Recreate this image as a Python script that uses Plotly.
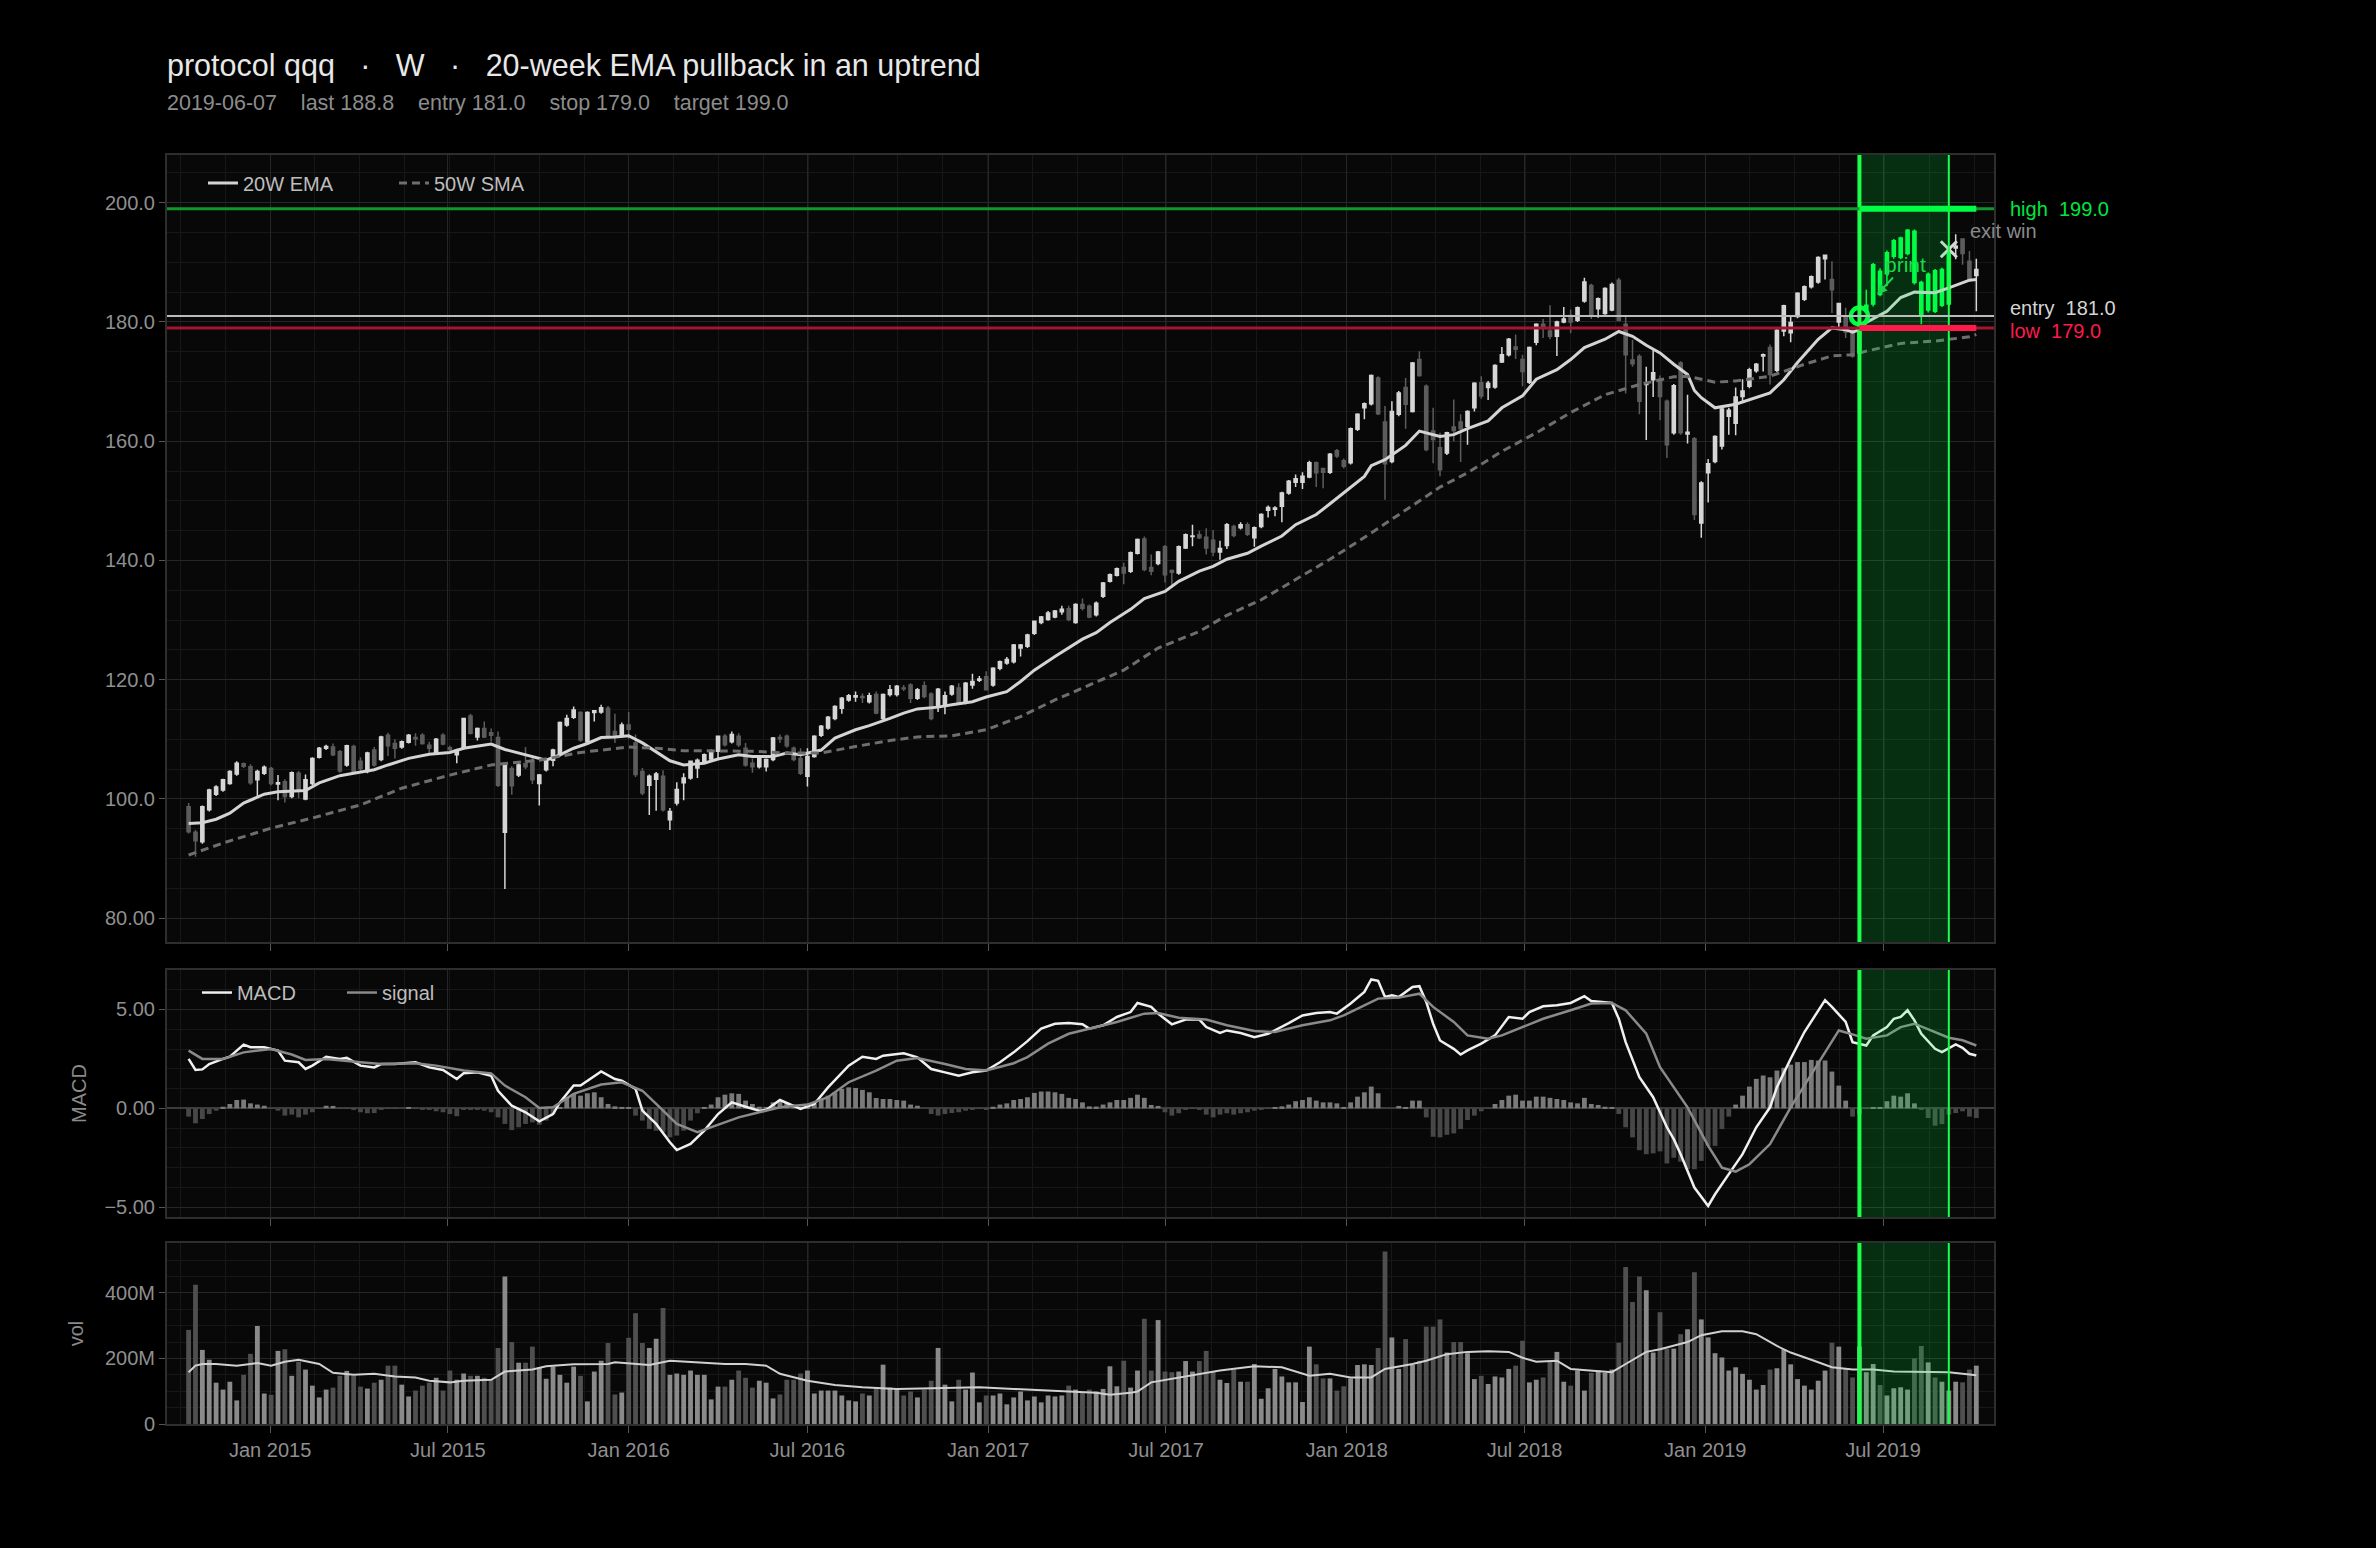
import pandas as pd
import plotly.graph_objects as go
from plotly.subplots import make_subplots

# weekly bars (Friday closes)
weeks = pd.date_range("2014-10-10", periods=261, freq="7D")

open_ = [98.7, 94.4, 92.8, 98.2, 100.8, 101.5, 102.6, 104.2, 105.9, 105.4,
         103.2, 104.3, 105.1, 102.5, 102.9, 100.4, 104.3, 100.0, 102.6, 107.0,
         108.5, 108.7, 107.9, 105.7, 108.8, 106.3, 104.6, 108.2, 106.6, 110.7,
         109.3, 108.7, 109.5, 110.3, 110.7, 109.0, 107.8, 110.7, 108.6, 107.4,
         108.5, 113.9, 110.4, 111.8, 111.1, 110.3, 94.4, 105.1, 104.0, 105.9,
         106.5, 102.6, 104.9, 106.5, 107.4, 112.4, 113.7, 114.5, 109.6, 114.5,
         114.6, 115.2, 111.3, 110.7, 112.4, 109.4, 104.6, 102.3, 103.3, 103.8,
         96.5, 99.3, 102.7, 103.5, 105.2, 106.3, 106.7, 108.0, 110.5, 109.6,
         110.5, 108.5, 106.0, 105.4, 105.4, 106.6, 110.3, 110.5, 108.5, 106.8,
         103.8, 107.1, 110.7, 111.9, 113.5, 115.2, 116.6, 117.1, 117.2, 116.3,
         117.5, 113.5, 117.5, 117.5, 118.6, 119.1, 116.9, 119.0, 117.6, 115.5,
         115.8, 117.6, 118.6, 116.2, 119.1, 119.9, 120.5, 119.1, 121.9, 122.8,
         123.0, 125.3, 125.6, 127.8, 129.6, 130.1, 130.5, 131.4, 131.9, 129.6,
         132.6, 132.3, 130.9, 134.0, 136.5, 137.5, 138.8, 138.2, 141.2, 143.6,
         138.8, 139.5, 142.3, 138.3, 137.9, 142.1, 144.0, 144.3, 143.9, 143.4,
         141.4, 142.5, 145.7, 145.5, 146.0, 143.8, 145.7, 148.4, 148.6, 149.1,
         151.3, 153.1, 153.1, 154.0, 156.4, 155.4, 154.8, 158.4, 156.7, 156.4,
         162.0, 165.6, 166.3, 170.6, 163.2, 156.6, 164.5, 169.0, 165.0, 173.7,
         169.2, 161.7, 158.9, 158.0, 162.4, 163.2, 162.5, 165.6, 169.8, 169.0,
         169.1, 173.3, 174.5, 175.8, 173.7, 169.9, 176.6, 179.6, 178.5, 177.6,
         180.0, 181.1, 180.3, 183.5, 186.1, 182.2, 181.4, 182.0, 187.0, 179.6,
         173.6, 174.2, 169.5, 170.3, 170.4, 166.7, 161.4, 173.1, 161.2, 160.4,
         146.3, 154.7, 156.6, 159.2, 164.2, 163.0, 167.5, 169.2, 171.8, 174.3,
         175.7, 171.9, 178.5, 178.2, 180.9, 183.8, 185.9, 186.7, 190.6, 187.1,
         180.0, 180.7, 178.5, 174.8, 181.8, 183.0, 188.5, 188.1, 191.0, 190.8,
         191.5, 195.2, 186.6, 182.0, 188.6, 182.8, 183.0, 192.4, 193.9, 190.2,
         187.8]

high = [99.3, 94.8, 98.9, 101.7, 102.3, 103.4, 104.8, 106.3, 106.1, 105.8,
        104.9, 105.6, 105.4, 104.0, 103.3, 104.6, 104.7, 104.1, 107.0, 108.7,
        109.1, 109.3, 108.2, 109.1, 109.1, 107.0, 107.9, 108.7, 110.6, 111.1,
        110.0, 109.8, 110.9, 111.0, 111.0, 109.6, 110.2, 111.0, 108.9, 108.4,
        113.6, 114.3, 112.0, 113.0, 111.8, 111.3, 105.9, 105.5, 106.1, 108.7,
        106.9, 104.2, 106.5, 108.4, 113.0, 114.1, 115.5, 114.7, 114.7, 114.9,
        115.8, 115.6, 114.3, 112.8, 114.6, 110.8, 105.2, 104.1, 104.5, 104.8,
        98.5, 102.8, 104.3, 106.4, 106.8, 107.6, 108.3, 110.6, 110.9, 111.3,
        111.0, 109.4, 106.8, 107.0, 106.8, 110.4, 110.8, 110.8, 108.8, 108.5,
        108.5, 110.7, 112.4, 113.9, 115.7, 117.1, 117.6, 118.0, 117.7, 117.8,
        118.0, 117.7, 119.1, 119.1, 119.1, 119.4, 118.6, 119.7, 117.9, 118.6,
        118.0, 119.1, 119.4, 119.6, 121.0, 120.6, 121.4, 122.1, 123.2, 123.8,
        126.0, 126.0, 127.7, 129.9, 130.7, 131.5, 131.7, 132.4, 132.4, 132.8,
        133.6, 132.6, 133.1, 136.4, 137.8, 138.8, 139.6, 141.5, 143.7, 144.0,
        141.0, 141.6, 142.6, 138.5, 142.5, 144.5, 146.0, 145.0, 145.4, 145.1,
        143.3, 146.3, 146.0, 146.4, 146.4, 145.7, 147.9, 149.2, 149.1, 151.5,
        153.5, 154.4, 154.8, 156.7, 156.6, 155.5, 158.0, 158.7, 157.1, 162.3,
        164.7, 166.5, 171.2, 170.9, 165.9, 166.7, 168.4, 170.6, 173.3, 175.1,
        169.5, 165.6, 161.4, 161.6, 167.0, 164.5, 165.2, 169.9, 170.9, 170.1,
        172.9, 175.8, 177.3, 177.9, 174.5, 175.9, 179.8, 180.5, 182.8, 180.2,
        182.5, 182.1, 182.6, 187.4, 186.4, 184.1, 185.8, 186.6, 187.4, 181.0,
        177.0, 174.6, 172.5, 175.3, 171.0, 167.0, 169.6, 173.4, 167.8, 160.7,
        153.3, 157.0, 161.0, 165.9, 165.6, 169.0, 170.4, 172.3, 173.1, 174.7,
        176.2, 178.9, 182.9, 180.9, 185.0, 186.1, 187.8, 191.0, 191.3, 190.2,
        183.1, 182.4, 178.8, 181.9, 185.4, 189.9, 189.0, 192.0, 193.9, 194.3,
        195.6, 195.5, 186.9, 188.3, 188.9, 189.1, 192.0, 194.7, 194.0, 191.9,
        190.6]

low = [94.2, 90.3, 92.5, 97.9, 100.5, 101.2, 102.4, 103.9, 105.2, 102.4,
       100.4, 104.0, 102.3, 99.8, 99.4, 100.1, 100.1, 99.8, 102.3, 106.8,
       108.2, 107.2, 104.4, 105.4, 104.3, 104.7, 104.3, 105.4, 106.3, 107.2,
       106.8, 108.4, 109.3, 108.9, 109.1, 107.5, 107.5, 109.0, 107.9, 106.0,
       108.3, 110.8, 109.8, 110.2, 109.6, 102.0, 84.9, 100.7, 103.7, 105.0,
       102.5, 98.9, 104.6, 105.5, 107.1, 112.1, 113.4, 109.6, 109.3, 113.0,
       114.3, 110.4, 109.4, 110.2, 110.1, 103.7, 100.6, 97.3, 98.0, 97.9,
       94.8, 98.9, 99.8, 103.2, 103.5, 106.0, 106.4, 106.6, 108.8, 109.3,
       108.7, 105.4, 104.4, 105.1, 104.6, 106.3, 109.4, 108.6, 106.3, 104.0,
       102.1, 106.9, 110.4, 111.6, 113.2, 114.3, 116.3, 116.3, 116.1, 116.0,
       114.2, 113.2, 117.2, 117.2, 118.1, 116.1, 116.6, 116.9, 113.2, 114.6,
       114.2, 117.3, 115.8, 115.9, 118.5, 119.6, 118.2, 118.8, 121.6, 122.5,
       122.7, 123.9, 125.3, 127.5, 129.3, 129.9, 130.3, 130.9, 129.8, 129.4,
       131.6, 130.3, 130.6, 133.7, 136.3, 137.3, 136.0, 137.9, 141.0, 138.2,
       137.5, 139.2, 136.3, 135.8, 137.6, 141.9, 142.4, 143.6, 141.0, 140.7,
       140.1, 141.9, 143.9, 145.2, 144.1, 142.3, 145.4, 147.2, 147.4, 146.4,
       151.0, 152.3, 152.0, 153.8, 152.3, 152.1, 154.5, 157.2, 155.4, 156.1,
       161.7, 163.7, 166.0, 164.4, 150.2, 156.3, 164.2, 162.1, 164.8, 170.8,
       158.3, 156.3, 154.1, 157.7, 160.0, 156.5, 159.4, 165.0, 167.1, 166.9,
       168.8, 173.1, 174.2, 173.8, 169.2, 169.6, 176.1, 177.3, 177.1, 174.3,
       179.8, 178.1, 180.0, 183.2, 180.5, 180.7, 181.2, 181.8, 180.1, 168.0,
       172.5, 164.5, 160.2, 167.4, 163.5, 157.2, 161.1, 161.1, 159.6, 146.8,
       143.8, 149.7, 156.3, 158.6, 161.1, 161.0, 166.6, 168.9, 171.5, 171.7,
       169.5, 171.6, 177.6, 176.6, 180.6, 183.5, 185.6, 186.4, 187.1, 181.5,
       178.9, 177.3, 174.0, 173.9, 181.3, 182.6, 184.3, 186.0, 190.6, 190.5,
       191.2, 186.3, 179.6, 181.6, 181.5, 182.5, 182.7, 190.5, 189.6, 186.8,
       181.8]

close = [94.5, 93.0, 98.7, 101.5, 102.0, 103.2, 104.6, 106.0, 105.5, 102.7,
         104.6, 105.3, 102.6, 102.7, 100.4, 104.4, 101.5, 103.2, 106.8, 108.5,
         108.8, 107.4, 104.7, 108.9, 104.6, 105.1, 107.7, 105.7, 110.4, 108.9,
         108.5, 109.6, 110.7, 110.1, 109.3, 108.5, 110.0, 109.2, 108.3, 108.2,
         113.5, 111.0, 111.8, 110.4, 110.7, 102.3, 105.7, 102.2, 105.7, 105.4,
         103.2, 104.0, 106.3, 108.2, 112.8, 113.5, 114.9, 109.9, 114.5, 114.8,
         115.3, 110.7, 110.6, 112.4, 111.7, 104.1, 101.0, 103.8, 104.2, 98.2,
         97.9, 101.6, 103.5, 106.3, 106.5, 107.4, 107.9, 110.5, 109.1, 110.8,
         109.1, 105.7, 105.4, 106.8, 106.6, 110.2, 110.1, 108.9, 106.6, 104.3,
         107.1, 110.5, 112.2, 113.7, 115.5, 116.9, 117.3, 117.3, 117.0, 117.3,
         114.4, 117.5, 118.3, 118.9, 118.5, 116.9, 118.3, 117.2, 113.5, 118.4,
         117.3, 118.9, 116.1, 119.4, 119.7, 120.1, 118.3, 121.9, 123.0, 123.4,
         125.8, 125.8, 127.5, 129.8, 130.5, 131.2, 131.5, 131.8, 130.1, 132.6,
         132.0, 130.5, 132.8, 136.2, 137.6, 138.6, 137.9, 141.3, 143.5, 138.5,
         138.2, 141.4, 137.6, 138.0, 142.3, 144.3, 144.1, 143.8, 142.1, 141.4,
         142.0, 146.0, 144.2, 146.0, 144.4, 145.5, 147.7, 148.9, 148.8, 151.3,
         153.3, 153.7, 154.1, 156.4, 154.7, 154.8, 157.8, 157.5, 155.8, 162.1,
         164.5, 166.3, 171.0, 164.6, 156.2, 165.0, 168.1, 166.2, 173.1, 171.0,
         158.6, 160.3, 155.2, 161.4, 161.8, 162.1, 165.0, 169.7, 167.6, 169.7,
         172.7, 174.5, 177.1, 175.4, 171.7, 175.7, 179.6, 179.0, 177.6, 180.0,
         180.5, 180.0, 182.4, 186.7, 181.3, 183.9, 185.6, 186.3, 180.3, 174.5,
         173.0, 166.7, 169.8, 171.5, 167.5, 159.4, 169.3, 161.4, 161.5, 147.7,
         153.0, 156.2, 160.8, 165.4, 165.2, 167.4, 168.4, 172.0, 172.9, 174.5,
         171.2, 178.6, 182.7, 179.9, 184.8, 185.9, 187.6, 190.8, 191.2, 185.4,
         183.1, 178.3, 174.3, 181.0, 182.8, 189.6, 184.6, 191.6, 193.6, 194.1,
         195.4, 186.6, 181.3, 188.0, 181.8, 188.8, 191.5, 192.7, 191.5, 187.1,
         188.8]

volume_m = [287, 425, 226, 196, 126, 105, 129, 72, 150, 214,
            299, 93, 89, 223, 228, 147, 190, 166, 117, 81,
            105, 111, 147, 162, 147, 114, 108, 126, 135, 178,
            178, 120, 84, 102, 117, 126, 141, 102, 163, 135,
            154, 147, 147, 141, 135, 232, 450, 250, 187, 187,
            236, 172, 138, 175, 150, 126, 175, 147, 69, 160,
            193, 247, 90, 96, 263, 338, 247, 232, 260, 354,
            150, 154, 150, 163, 150, 150, 75, 114, 114, 135,
            163, 141, 111, 132, 126, 78, 90, 135, 135, 154,
            163, 93, 102, 102, 102, 87, 72, 69, 93, 87,
            108, 181, 111, 105, 87, 99, 81, 105, 132, 232,
            120, 69, 135, 105, 157, 66, 87, 87, 93, 60,
            81, 99, 72, 84, 66, 87, 84, 87, 117, 105,
            95, 105, 99, 107, 176, 115, 193, 111, 163, 321,
            163, 317, 160, 158, 160, 192, 160, 192, 223, 158,
            135, 125, 166, 129, 129, 183, 77, 109, 168, 145,
            127, 127, 67, 236, 182, 139, 139, 102, 115, 139,
            180, 182, 180, 232, 526, 264, 168, 259, 180, 193,
            297, 297, 319, 218, 250, 250, 216, 137, 147, 122,
            145, 142, 168, 178, 254, 127, 135, 142, 193, 220,
            129, 117, 163, 102, 156, 163, 156, 166, 248, 479,
            372, 450, 408, 218, 341, 230, 230, 274, 289, 463,
            319, 264, 216, 203, 163, 173, 153, 135, 105, 119,
            166, 170, 228, 182, 137, 117, 105, 132, 163, 248,
            236, 170, 142, 236, 158, 183, 119, 87, 109, 112,
            105, 200, 238, 188, 142, 129, 102, 129, 127, 166,
            178]

macd_hist = [-0.42, -0.76, -0.54, -0.29, -0.12, 0.08, 0.22, 0.42, 0.44, 0.25,
             0.19, 0.13, -0.03, -0.12, -0.37, -0.32, -0.46, -0.32, -0.2, -0.03,
             0.13, 0.12, -0.02, -0.03, -0.08, -0.2, -0.25, -0.24, -0.05, -0.02,
             -0.02, 0.0, 0.02, -0.02, -0.05, -0.08, -0.15, -0.2, -0.29, -0.4,
             -0.07, -0.05, -0.08, -0.12, -0.2, -0.46, -0.79, -1.1, -0.96, -0.79,
             -0.71, -0.83, -0.62, -0.29, 0.05, 0.56, 0.73, 0.64, 0.76, 0.81,
             0.56, 0.22, 0.1, 0.05, 0.02, -0.37, -0.62, -1.05, -1.13, -1.21,
             -1.47, -1.38, -1.13, -0.62, -0.25, 0.05, 0.19, 0.56, 0.69, 0.76,
             0.73, 0.39, 0.22, 0.08, 0.07, 0.3, 0.39, 0.3, 0.19, 0.08,
             0.05, 0.22, 0.47, 0.64, 0.81, 0.98, 1.06, 1.03, 0.93, 0.81,
             0.52, 0.47, 0.47, 0.42, 0.39, 0.19, 0.13, 0.0, -0.29, -0.37,
             -0.29, -0.24, -0.2, -0.12, -0.05, -0.02, -0.07, 0.08, 0.19, 0.25,
             0.42, 0.47, 0.56, 0.78, 0.85, 0.85, 0.81, 0.73, 0.53, 0.47,
             0.3, 0.1, 0.09, 0.19, 0.3, 0.42, 0.42, 0.53, 0.69, 0.53,
             0.17, 0.12, -0.2, -0.37, -0.25, -0.08, -0.03, -0.07, -0.32, -0.46,
             -0.32, -0.25, -0.32, -0.25, -0.2, -0.12, -0.07, -0.03, 0.02, 0.1,
             0.19, 0.36, 0.42, 0.56, 0.39, 0.3, 0.3, 0.25, 0.05, 0.3,
             0.59, 0.81, 1.1, 0.76, 0.0, 0.0, 0.12, 0.05, 0.39, 0.39,
             -0.46, -1.44, -1.47, -1.34, -1.27, -1.05, -0.59, -0.37, -0.15, -0.03,
             0.22, 0.42, 0.64, 0.69, 0.39, 0.39, 0.59, 0.59, 0.53, 0.47,
             0.42, 0.3, 0.25, 0.53, 0.22, 0.17, 0.08, 0.05, -0.29, -0.96,
             -1.47, -2.12, -2.32, -2.28, -2.18, -2.79, -2.5, -2.7, -3.08, -3.08,
             -2.66, -1.9, -1.9, -1.05, -0.42, 0.19, 0.64, 1.1, 1.49, 1.66,
             1.57, 1.91, 2.05, 2.21, 2.34, 2.34, 2.45, 2.42, 2.42, 1.86,
             1.15, 0.39, -0.42, -0.29, -0.03, 0.05, 0.02, 0.36, 0.64, 0.59,
             0.76, 0.25, -0.08, -0.49, -0.88, -0.8, -0.32, -0.24, -0.15, -0.42,
             -0.49]

# indicator lines, read at (week index, value)
ema_wk = [0, 2, 4, 6, 8, 11, 13, 15, 17, 19, 22, 24, 27, 29, 32, 35, 38, 40, 42, 44,
          46, 48, 50, 52, 54, 56, 58, 60, 62, 64, 66, 68, 70, 72, 75, 77, 80, 82, 85, 87,
          89, 92, 94, 97, 99, 102, 104, 106, 109, 111, 114, 116, 119, 121, 123, 126, 128, 130, 132, 134,
          137, 139, 142, 144, 147, 149, 151, 154, 156, 159, 161, 164, 166, 168, 171, 172, 174, 177, 179, 182,
          184, 186, 189, 191, 194, 196, 199, 201, 203, 206, 208, 210, 212, 214, 216, 218, 219, 220, 222, 225,
          227, 230, 232, 234, 237, 239, 241, 242, 243, 244, 247, 249, 251, 254, 256, 259, 260]
ema_val = [95.9, 96.0, 96.6, 97.6, 99.3, 100.8, 101.2, 101.3, 101.4, 102.7, 103.9, 104.3, 104.9, 105.7, 106.8, 107.5, 107.8, 108.5, 108.9, 109.2,
           108.3, 107.7, 107.1, 106.5, 107.4, 108.5, 109.3, 110.3, 110.4, 110.6, 109.4, 107.9, 106.4, 105.7, 106.0, 106.7, 107.4, 107.1, 107.1, 107.7,
           107.4, 108.2, 110.2, 111.6, 112.3, 113.5, 114.4, 115.1, 115.4, 115.8, 116.3, 117.1, 118.0, 119.7, 121.6, 123.9, 125.4, 126.8, 127.9, 129.6,
           131.8, 133.6, 134.8, 136.5, 138.2, 139.0, 140.2, 141.2, 142.4, 144.1, 146.0, 147.7, 149.5, 151.3, 154.1, 155.9, 156.9, 159.3, 161.7, 160.8,
           161.1, 162.1, 163.4, 165.6, 167.6, 170.4, 172.0, 173.7, 175.7, 177.1, 178.4, 177.6, 176.1, 174.8, 172.9, 171.2, 168.5, 167.3, 165.6, 166.2,
           167.0, 168.1, 170.3, 173.2, 177.1, 179.0, 178.7, 178.3, 178.7, 179.9, 181.8, 184.1, 185.0, 184.9, 185.7, 187.0, 187.1]

sma_wk = [0, 5, 12, 18, 25, 31, 38, 44, 51, 57, 64, 68, 72, 77, 82, 87, 92, 97, 102, 106,
          111, 116, 121, 126, 131, 136, 141, 147, 151, 156, 161, 166, 172, 177, 182, 186, 191, 196, 201, 206,
          211, 216, 218, 220, 222, 225, 230, 235, 239, 242, 244, 249, 254, 259, 260]
sma_val = [90.6, 92.6, 95.1, 96.8, 99.0, 101.8, 104.0, 105.7, 106.5, 107.8, 108.7, 108.5, 108.1, 108.0, 108.0, 107.7, 107.7, 108.8, 109.8, 110.4,
           110.6, 111.6, 113.8, 116.6, 119.1, 121.6, 125.3, 128.1, 130.8, 133.4, 136.8, 140.2, 144.6, 148.5, 152.3, 154.7, 158.3, 161.4, 164.8, 167.8,
           169.5, 170.8, 170.9, 170.4, 169.9, 170.1, 170.9, 172.9, 174.3, 174.5, 175.1, 176.4, 176.8, 177.5, 177.9]

macd_wk = [0, 1, 2, 3, 5, 6, 8, 9, 11, 13, 14, 16, 17, 18, 20, 22, 23, 25, 27, 28,
           30, 33, 35, 37, 39, 40, 42, 44, 45, 47, 49, 51, 53, 54, 56, 57, 60, 62, 63, 65,
           66, 68, 70, 71, 73, 75, 77, 79, 81, 83, 84, 86, 89, 91, 93, 96, 98, 100, 101, 104,
           106, 108, 110, 112, 114, 116, 118, 120, 122, 124, 126, 128, 130, 131, 133, 135, 137, 138, 140, 141,
           143, 145, 147, 148, 150, 151, 153, 155, 157, 158, 160, 162, 164, 166, 167, 169, 171, 172, 173, 174,
           175, 176, 178, 179, 180, 181, 182, 184, 185, 186, 188, 190, 192, 194, 195, 197, 199, 201, 203, 204,
           207, 208, 209, 211, 213, 215, 216, 217, 219, 221, 222, 224, 226, 228, 230, 231, 233, 235, 237, 238,
           239, 241, 242, 244, 245, 247, 248, 249, 250, 251, 252, 254, 255, 257, 258, 259, 260]
macd_val = [2.5, 1.94, 1.97, 2.24, 2.5, 2.61, 3.22, 3.09, 3.09, 2.92, 2.41, 2.33, 1.99, 2.16, 2.61, 2.5, 2.55, 2.16, 2.07, 2.24,
            2.24, 2.33, 2.07, 1.94, 1.48, 1.77, 1.82, 1.65, 0.89, 0.13, -0.2, -0.66, -0.29, 0.3, 1.15, 1.15, 1.87, 1.48, 1.4, 0.98,
            -0.12, -0.79, -1.72, -2.11, -1.8, -1.13, -0.29, 0.3, 0.08, -0.12, -0.08, 0.42, -0.03, 0.22, 1.06, 2.16, 2.61, 2.5, 2.66, 2.78,
            2.58, 1.99, 1.82, 1.65, 1.82, 1.91, 2.33, 2.83, 3.4, 4.03, 4.28, 4.31, 4.25, 4.03, 4.2, 4.62, 4.87, 5.33, 5.13, 4.79,
            4.25, 4.49, 4.49, 4.11, 3.81, 3.94, 3.81, 3.6, 3.77, 3.94, 4.31, 4.7, 4.82, 4.87, 4.79, 5.3, 5.89, 6.52, 6.45, 5.63,
            5.72, 5.63, 6.14, 6.18, 5.38, 4.28, 3.43, 3.01, 2.72, 2.93, 3.27, 3.69, 4.62, 4.53, 4.87, 5.16, 5.21, 5.33, 5.67, 5.43,
            5.33, 4.53, 3.35, 1.57, 0.56, -0.96, -1.56, -2.32, -4.01, -4.94, -4.35, -3.33, -2.32, -0.96, 0.05, 1.07, 2.51, 3.86, 4.96, 5.47,
            5.13, 4.37, 3.35, 3.18, 3.69, 4.11, 4.53, 4.62, 4.96, 4.45, 3.77, 3.01, 2.84, 3.23, 3.06, 2.76, 2.67]

signal_wk = [0, 2, 5, 8, 12, 15, 17, 20, 25, 28, 33, 36, 40, 44, 46, 49, 51, 53, 56, 60,
             63, 66, 68, 71, 74, 76, 80, 83, 86, 90, 93, 96, 100, 103, 106, 110, 113, 116, 120, 122,
             125, 128, 131, 135, 139, 141, 144, 148, 151, 155, 158, 162, 166, 168, 171, 173, 176, 179, 181, 184,
             186, 189, 191, 194, 197, 201, 204, 207, 209, 212, 214, 218, 221, 223, 225, 227, 230, 233, 236, 239,
             240, 242, 244, 247, 249, 251, 253, 256, 258, 260]
signal_val = [2.92, 2.5, 2.5, 2.83, 3.0, 2.72, 2.45, 2.5, 2.33, 2.24, 2.28, 2.16, 1.91, 1.77, 1.15, 0.56, 0.02, 0.05, 0.73, 1.2,
              1.32, 0.89, 0.22, -0.79, -1.21, -0.96, -0.46, -0.2, 0.05, 0.19, 0.56, 1.32, 1.91, 2.41, 2.55, 2.24, 1.99, 1.91, 2.28, 2.59,
              3.27, 3.77, 4.03, 4.37, 4.79, 4.82, 4.58, 4.49, 4.2, 3.91, 3.86, 4.2, 4.45, 4.7, 5.21, 5.55, 5.6, 5.8, 5.13, 4.37,
              3.69, 3.52, 3.69, 4.11, 4.53, 4.96, 5.3, 5.33, 4.96, 3.77, 2.08, 0.05, -1.9, -3.0, -3.2, -2.83, -1.81, 0.05, 1.74, 3.44,
              3.94, 3.74, 3.52, 3.69, 4.11, 4.28, 3.98, 3.57, 3.44, 3.18]

volma_wk = [0, 1, 2, 4, 7, 10, 12, 14, 16, 19, 21, 24, 27, 30, 33, 35, 38, 40, 44, 46,
            50, 52, 56, 58, 61, 62, 64, 67, 70, 73, 75, 78, 81, 84, 86, 90, 94, 98, 103, 107,
            111, 115, 120, 124, 128, 132, 134, 137, 138, 140, 144, 147, 150, 155, 159, 163, 166, 169, 172, 174,
            178, 180, 183, 186, 189, 192, 194, 196, 199, 201, 204, 207, 209, 212, 214, 218, 220, 223, 226, 228,
            231, 233, 236, 239, 242, 245, 248, 254, 256, 260]
volma_m = [158, 178, 183, 183, 178, 186, 178, 190, 196, 183, 156, 150, 153, 145, 142, 132, 127, 132, 135, 160,
           166, 176, 182, 183, 183, 188, 185, 180, 193, 190, 188, 183, 183, 178, 153, 132, 119, 112, 107, 109,
           112, 112, 107, 102, 99, 95, 89, 95, 99, 127, 142, 153, 163, 176, 173, 147, 153, 142, 142, 168,
           183, 193, 213, 220, 222, 220, 202, 190, 193, 168, 163, 158, 183, 220, 228, 250, 271, 283, 283, 274,
           238, 218, 196, 173, 166, 166, 160, 160, 158, 149]

ENTRY_I, EXIT_I, LAST_I = 243, 256, 260
entry_px, stop_px, target_px, last_px = 181.0, 179.0, 199.0, 188.8
exit_px = 192.2
print_wk, print_px = 245, 184.6

UP, DOWN, GREEN = "#d6d6d6", "#5c5c5c", "#00ff44"
RED = "#ff1a4b"
FONT = "Liberation Sans, Arial, Helvetica, sans-serif"

fig = make_subplots(rows=3, cols=1, shared_xaxes=True)

inside = [ENTRY_I <= k <= EXIT_I for k in range(len(weeks))]


def pick(seq, flag):
    return [v for v, f in zip(seq, inside) if f == flag]


# candles outside and inside the trade window
fig.add_trace(go.Candlestick(
    x=pick(weeks, False), open=pick(open_, False), high=pick(high, False),
    low=pick(low, False), close=pick(close, False),
    increasing=dict(line=dict(color=UP, width=1.5), fillcolor=UP),
    decreasing=dict(line=dict(color=DOWN, width=1.5), fillcolor=DOWN),
    showlegend=False, hoverinfo="skip"), row=1, col=1)
fig.add_trace(go.Candlestick(
    x=pick(weeks, True), open=pick(open_, True), high=pick(high, True),
    low=pick(low, True), close=pick(close, True),
    increasing=dict(line=dict(color=GREEN, width=1.5), fillcolor=GREEN),
    decreasing=dict(line=dict(color=GREEN, width=1.5), fillcolor=GREEN),
    showlegend=False, hoverinfo="skip"), row=1, col=1)

fig.add_trace(go.Scatter(x=[weeks[k] for k in ema_wk], y=ema_val, mode="lines",
                         name="20W EMA", line=dict(color="#d4d4d4", width=3),
                         legend="legend"), row=1, col=1)
fig.add_trace(go.Scatter(x=[weeks[k] for k in sma_wk], y=sma_val, mode="lines",
                         name="50W SMA", line=dict(color="#6e6e6e", width=3, dash="8px,5px"),
                         legend="legend"), row=1, col=1)

fig.add_trace(go.Scatter(x=[weeks[ENTRY_I]], y=[entry_px], mode="markers",
                         marker=dict(symbol="circle", size=17, color="#000000",
                                     line=dict(color=GREEN, width=4.5)),
                         showlegend=False, hoverinfo="skip"), row=1, col=1)
fig.add_trace(go.Scatter(x=[weeks[EXIT_I]], y=[exit_px], mode="markers",
                         marker=dict(symbol="x-thin", size=16,
                                     line=dict(color="#d8d8d8", width=3)),
                         showlegend=False, hoverinfo="skip"), row=1, col=1)

# MACD panel
hist_colors = ["#7a7a7a" if v >= 0 else "#474747" for v in macd_hist]
fig.add_trace(go.Bar(x=weeks, y=macd_hist, marker=dict(color=hist_colors, line=dict(width=0)),
                     showlegend=False, hoverinfo="skip"), row=2, col=1)
fig.add_trace(go.Scatter(x=[weeks[k] for k in macd_wk], y=macd_val, mode="lines", name="MACD",
                         line=dict(color="#f0f0f0", width=2.5), legend="legend2"), row=2, col=1)
fig.add_trace(go.Scatter(x=[weeks[k] for k in signal_wk], y=signal_val, mode="lines", name="signal",
                         line=dict(color="#8a8a8a", width=2.5), legend="legend2"), row=2, col=1)

# volume panel
vol_colors = ["#8a8a8a" if c >= o else "#4f4f4f" for o, c in zip(open_, close)]
fig.add_trace(go.Bar(x=weeks, y=[v * 1e6 for v in volume_m],
                     marker=dict(color=vol_colors, line=dict(width=0)),
                     showlegend=False, hoverinfo="skip"), row=3, col=1)
fig.add_trace(go.Scatter(x=[weeks[k] for k in volma_wk], y=[v * 1e6 for v in volma_m],
                         mode="lines", line=dict(color="#d0d0d0", width=2),
                         showlegend=False, hoverinfo="skip"), row=3, col=1)

# trade window shading and verticals on each panel
for yr in ["y", "y2", "y3"]:
    fig.add_shape(type="rect", xref="x", yref=f"{yr} domain",
                  x0=weeks[ENTRY_I], x1=weeks[EXIT_I], y0=0, y1=1,
                  fillcolor="rgba(0,255,68,0.16)", line=dict(width=0), layer="above")
    fig.add_shape(type="line", xref="x", yref=f"{yr} domain",
                  x0=weeks[ENTRY_I], x1=weeks[ENTRY_I], y0=0, y1=1,
                  line=dict(color="#1aff4a", width=4))
    fig.add_shape(type="line", xref="x", yref=f"{yr} domain",
                  x0=weeks[EXIT_I], x1=weeks[EXIT_I], y0=0, y1=1,
                  line=dict(color="#1aff4a", width=2))

# level lines
fig.add_shape(type="line", xref="x domain", yref="y", x0=0, x1=1, y0=target_px, y1=target_px,
              line=dict(color="#10962c", width=3))
fig.add_shape(type="line", xref="x domain", yref="y", x0=0, x1=1, y0=entry_px, y1=entry_px,
              line=dict(color="#bcbcbc", width=2))
fig.add_shape(type="line", xref="x domain", yref="y", x0=0, x1=1, y0=stop_px, y1=stop_px,
              line=dict(color="#a3142f", width=3))
fig.add_shape(type="line", xref="x", yref="y", x0=weeks[ENTRY_I], x1=weeks[LAST_I],
              y0=target_px, y1=target_px, line=dict(color=GREEN, width=6))
fig.add_shape(type="line", xref="x", yref="y", x0=weeks[ENTRY_I], x1=weeks[LAST_I],
              y0=stop_px, y1=stop_px, line=dict(color=RED, width=6))

nb = "\u00a0"
annotations = [
    dict(xref="paper", yref="paper", x=0, y=1.041, xanchor="left", yanchor="middle", xshift=-2,
         text=(f"2019-06-07{nb*4}last {last_px:.1f}{nb*4}entry {entry_px:.1f}"
               f"{nb*4}stop {stop_px:.1f}{nb*4}target {target_px:.1f}"),
         showarrow=False, font=dict(size=21.5, color="#8c8c8c")),
    dict(xref="paper", yref="y", x=1, y=target_px, xshift=15, xanchor="left", yanchor="middle",
         text=f"high{nb*2}{target_px:.1f}", showarrow=False, borderpad=0,
         font=dict(size=20, color="#00e640")),
    dict(xref="paper", yref="y", x=1, y=entry_px + 1.3, xshift=15, xanchor="left", yanchor="middle",
         text=f"entry{nb*2}{entry_px:.1f}", showarrow=False, borderpad=0,
         font=dict(size=20, color="#d4d4d4")),
    dict(xref="paper", yref="y", x=1, y=stop_px - 0.6, xshift=15, xanchor="left", yanchor="middle",
         text=f"low{nb*2}{stop_px:.1f}", showarrow=False, borderpad=0,
         font=dict(size=20, color=RED)),
    dict(xref="x", yref="y", x=weeks[EXIT_I], y=195.3, xshift=20, xanchor="left", yanchor="middle",
         text="exit win", showarrow=False, borderpad=0, font=dict(size=20, color="#8a8a8a")),
    dict(xref="x", yref="y", x=weeks[print_wk] + pd.Timedelta(days=4), y=print_px,
         text="print", showarrow=True, ax=28, ay=-30, arrowhead=2, arrowsize=1,
         arrowwidth=2, arrowcolor="#19d94a", font=dict(size=21, color="#19d94a")),
]

GRID, MINOR = "#262626", "#171717"
minor_x = dict(dtick=45.65 * 86400000, tick0="2015-01-01", showgrid=True, gridcolor=MINOR, gridwidth=1)
xcommon = dict(type="date", range=["2014-09-18", "2019-10-22"], dtick="M6", tick0="2015-01-01",
               tickformat="%b %Y", showgrid=True, gridcolor=GRID, gridwidth=1, minor=minor_x,
               ticks="outside", ticklen=7, tickcolor="#555555", showline=True, linecolor="#2e2e2e",
               linewidth=2, mirror=True, rangeslider=dict(visible=False),
               tickfont=dict(size=20, color="#8f8f8f"))
ycommon = dict(showgrid=True, gridcolor=GRID, gridwidth=1, ticks="outside", ticklen=6,
               tickcolor="#555555", showline=True, linecolor="#2e2e2e", linewidth=2, mirror=True,
               tickfont=dict(size=20, color="#8f8f8f"), zeroline=False)

fig.update_layout(
    width=2376, height=1548,
    paper_bgcolor="#000000", plot_bgcolor="#080808",
    font=dict(family=FONT, color="#bdbdbd"),
    margin=dict(l=167, r=382, t=155, b=124),
    title=dict(text=f"protocol qqq{nb*3}·{nb*3}W{nb*3}·{nb*3}20-week EMA pullback in an uptrend",
               x=167 / 2376, xanchor="left", y=1 - 65 / 1548, yanchor="middle",
               font=dict(size=30.5, color="#e8e8e8")),
    bargap=0.3, boxgap=0.35,
    legend=dict(orientation="h", x=0.0197, y=0.978, xanchor="left", yanchor="middle",
                entrywidth=146, entrywidthmode="pixels",
                bgcolor="rgba(0,0,0,0)", font=dict(size=20, color="#bdbdbd")),
    legend2=dict(orientation="h", x=0.0164, y=0.340, xanchor="left", yanchor="middle",
                 entrywidth=100, entrywidthmode="pixels",
                 bgcolor="rgba(0,0,0,0)", font=dict(size=20, color="#bdbdbd")),
    annotations=annotations,
    xaxis=dict(xcommon, showticklabels=False),
    xaxis2=dict(xcommon, showticklabels=False),
    xaxis3=dict(xcommon, showticklabels=True),
    yaxis=dict(ycommon, domain=[0.3798, 1.0], range=[76, 208], dtick=20, tick0=0,
               tickformat=".4g", minor=dict(dtick=5, showgrid=True, gridcolor=MINOR)),
    yaxis2=dict(ycommon, domain=[0.1631, 0.3578], range=[-5.5, 7.0], dtick=5, tick0=0,
                tickformat=".2f", minor=dict(dtick=1, showgrid=True, gridcolor=MINOR),
                zeroline=True, zerolinecolor="#3c3c3c", zerolinewidth=2,
                title=dict(text="MACD", standoff=12, font=dict(size=20, color="#8a8a8a"))),
    yaxis3=dict(ycommon, domain=[0.0, 0.1426], range=[0, 552e6], dtick=200e6, tick0=0,
                tickformat="~s", minor=dict(dtick=50e6, showgrid=True, gridcolor=MINOR),
                title=dict(text="vol", standoff=16, font=dict(size=20, color="#8a8a8a"))),
)

# page without the default body margin, black behind the figure
fig.write_html("out.html", config={"displayModeBar": False},
               post_script="document.body.style.margin='0';document.body.style.background='#000';")
